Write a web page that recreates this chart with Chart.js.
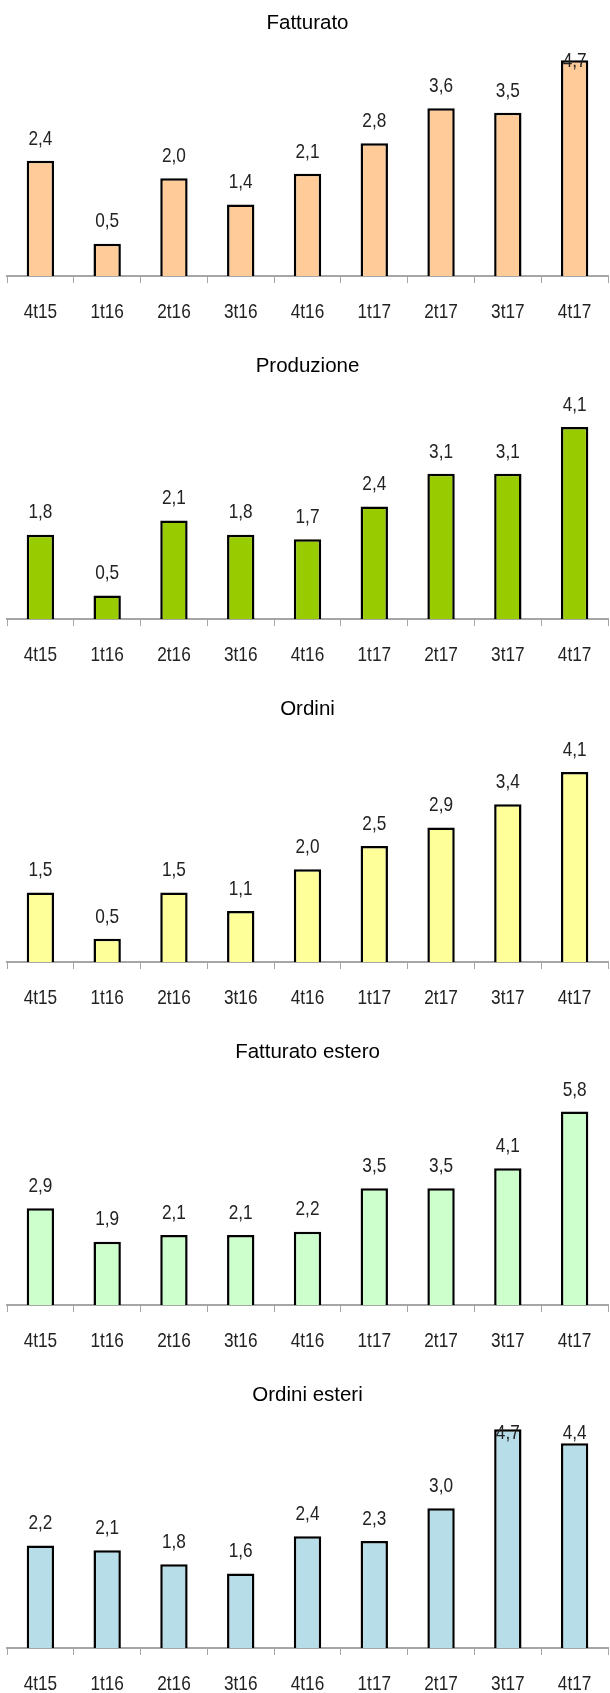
<!DOCTYPE html>
<html>
<head>
<meta charset="utf-8">
<script src="https://cdn.jsdelivr.net/npm/chart.js@4/dist/chart.umd.min.js"></script>
<style>
  html, body { margin: 0; padding: 0; background: #fff; overflow: hidden; }
  canvas { display: block; }
</style>
</head>
<body>
<div id="charts"></div>
<script>
const quarters = ['4t15', '1t16', '2t16', '3t16', '4t16', '1t17', '2t17', '3t17', '4t17'];

const fatturato = [2.4, 0.5, 2.0, 1.4, 2.1, 2.8, 3.6, 3.5, 4.7];
const produzione = [1.8, 0.5, 2.1, 1.8, 1.7, 2.4, 3.1, 3.1, 4.1];
const ordini = [1.5, 0.5, 1.5, 1.1, 2.0, 2.5, 2.9, 3.4, 4.1];
const fatturatoEstero = [2.9, 1.9, 2.1, 2.1, 2.2, 3.5, 3.5, 4.1, 5.8];
const ordiniEsteri = [2.2, 2.1, 1.8, 1.6, 2.4, 2.3, 3.0, 4.7, 4.4];

const panels = [
    { title: 'Fatturato', data: fatturato, color: '#FFCC99', min: -0.24, max: 4.90 },
    { title: 'Produzione', data: produzione, color: '#99CC00', min: 0, max: 4.79 },
    { title: 'Ordini', data: ordini, color: '#FFFF99', min: 0, max: 4.84 },
    { title: 'Fatturato estero', data: fatturatoEstero, color: '#CCFFCC', min: 0, max: 6.73 },
    { title: 'Ordini esteri', data: ordiniEsteri, color: '#B7DDE8', min: 0, max: 4.82 },
];

const SANS = "'Liberation Sans', Arial, sans-serif";
const GRAY = '#a6a6a6';
const TEXT = '#222';

// condensed text: regular sans squeezed horizontally
function narrowText(ctx, text, x, y) {
    ctx.save();
    ctx.translate(x, y);
    ctx.scale(0.82, 1);
    ctx.fillText(text, 0, 0);
    ctx.restore();
}

// quarter names under the axis and values over the bars
const narrowLabels = {
    id: 'narrowLabels',
    afterDraw(chart) {
        const { ctx, chartArea } = chart;
        const xScale = chart.scales.x;
        const meta = chart.getDatasetMeta(0);
        const values = chart.data.datasets[0].data;
        ctx.save();
        ctx.font = '21px ' + SANS;
        ctx.fillStyle = TEXT;
        ctx.textAlign = 'center';
        ctx.textBaseline = 'middle';
        chart.data.labels.forEach((lab, i) => {
            narrowText(ctx, lab, xScale.getPixelForTick(i), chartArea.bottom + 36);
        });
        meta.data.forEach((bar, i) => {
            // kept inside the plot area when the bar reaches the top
            const y = Math.max(bar.y - 22, chartArea.top + 10);
            narrowText(ctx, values[i].toFixed(1).replace('.', ','), bar.x, y);
        });
        ctx.restore();
    }
};

const holder = document.getElementById('charts');

panels.forEach(p => {
    const canvas = document.createElement('canvas');
    canvas.width = 610;
    canvas.height = 343;
    holder.appendChild(canvas);

    new Chart(canvas, {
        type: 'bar',
        data: {
            labels: quarters,
            datasets: [{
                data: p.data,
                base: p.min,
                backgroundColor: p.color,
                borderColor: '#000',
                borderWidth: 2.5,
                categoryPercentage: 1,
                barPercentage: 0.41
            }]
        },
        plugins: [narrowLabels],
        options: {
            responsive: false,
            animation: false,
            events: [],
            layout: { padding: { left: 7, right: 2, top: 0, bottom: 0 } },
            plugins: {
                legend: { display: false },
                tooltip: { enabled: false },
                title: {
                    display: true,
                    text: p.title,
                    color: '#000',
                    font: { family: SANS, size: 20.5, weight: 'normal' },
                    padding: { top: 11, bottom: 16 }
                }
            },
            scales: {
                x: {
                    offset: true,
                    afterFit: s => { s.height = 67; },
                    border: { display: true, color: GRAY, width: 2 },
                    grid: {
                        offset: true,
                        drawOnChartArea: false,
                        drawTicks: true,
                        tickLength: 7,
                        color: GRAY,
                        lineWidth: 1
                    },
                    ticks: { display: false }
                },
                y: {
                    display: false,
                    min: p.min,
                    max: p.max
                }
            }
        }
    });
});
</script>
</body>
</html>
